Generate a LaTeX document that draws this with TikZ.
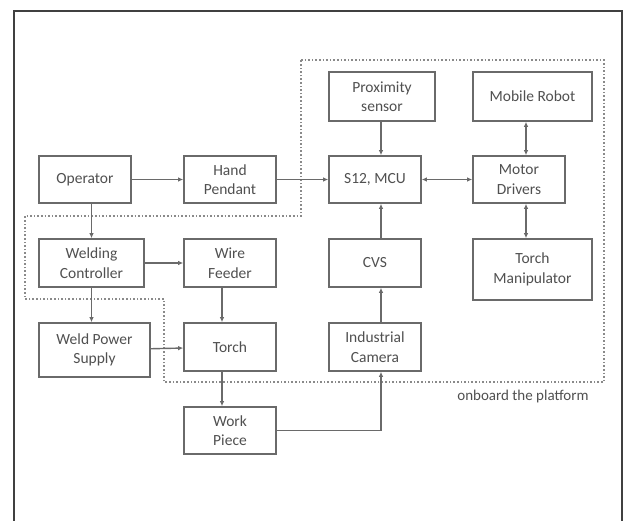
\documentclass[tikz,border=0pt]{standalone}
\usepackage{fontspec}
\setmainfont{Carlito}
\usetikzlibrary{arrows.meta,calc}
\definecolor{boxc}{HTML}{6A6A6A}
\definecolor{txtc}{HTML}{505050}
\definecolor{dotc}{HTML}{8A8A8A}
\begin{document}
\begin{tikzpicture}[x=1pt,y=-1pt,
  blk/.style={draw=boxc,line width=1.6pt,fill=white,text=txtc,align=center,
    font=\fontsize{15.5}{19.5}\selectfont,inner sep=2pt},
  conn/.style={draw=boxc,line width=1.4pt,-{Latex[length=5pt,width=4.5pt]}},
  bconn/.style={draw=boxc,line width=1.4pt,{Latex[length=5pt,width=4.5pt]}-{Latex[length=5pt,width=4.5pt]}},
  plain/.style={draw=boxc,line width=1.4pt}]
\useasboundingbox (0,0) rectangle (625,521);
\fill[white] (0,0) rectangle (625,521);
% outer frame
\draw[line width=2.2pt,draw=black!75] (14,525) -- (14,11) -- (622,11) -- (622,525);
% dotted boundary
\draw[dotc,line width=1.6pt,dotted] (301,60) -- (604,60) -- (604,382) -- (164,382) -- (164,299) -- (25,299) -- (25,216) -- (301,216) -- cycle;
\node[text=txtc,font=\fontsize{15}{18}\selectfont,anchor=center] (lbl) at (523,397) {onboard the platform};
% boxes
\node[blk,minimum width=92,minimum height=47] (op) at (85,179.5) {Operator};
\node[blk,minimum width=92,minimum height=47] (hp) at (230,179.5) {Hand\\Pendant};
\node[blk,minimum width=106,minimum height=49] (px) at (382,96.5) {Proximity\\sensor};
\node[blk,minimum width=119,minimum height=49] (mr) at (532.5,96.5) {Mobile Robot};
\node[blk,minimum width=92,minimum height=47] (mcu) at (375,179.5) {S12, MCU};
\node[blk,minimum width=92,minimum height=47] (md) at (519,179.5) {Motor\\Drivers};
\node[blk,minimum width=105,minimum height=48] (wc) at (91.5,263) {Welding\\Controller};
\node[blk,minimum width=92,minimum height=48] (wf) at (230,263) {Wire\\Feeder};
\node[blk,minimum width=92,minimum height=48] (cvs) at (375,263) {CVS};
\node[blk,minimum width=119,minimum height=61] (tm) at (532.5,269.5) {Torch\\Manipulator};
\node[blk,minimum width=111,minimum height=54] (wps) at (94.5,350) {Weld Power\\Supply};
\node[blk,minimum width=92,minimum height=48] (tr) at (230,347) {Torch};
\node[blk,minimum width=92,minimum height=48] (cam) at (375,347) {Industrial\\Camera};
\node[blk,minimum width=92,minimum height=47] (wp) at (230,430.5) {Work\\Piece};
% column coordinates
\coordinate (cx) at (381,0);
\coordinate (mx) at (526,0);
\coordinate (tx) at (222,0);
% connectors
\draw[conn] (op) -- (hp);
\draw[conn] (hp) -- (mcu);
\draw[conn] (wc.north |- op.south) -- (wc.north);
\draw[conn] (wc) -- (wf);
\draw[conn] (wc.south) -- (wc.south |- wps.north);
\draw[conn] (wf.south -| tx) -- (tr.north -| tx);
\draw[conn] (wps) -- (tr);
\draw[conn] (tr.south -| tx) -- (wp.north -| tx);
\draw[conn] (wp.east) -- (wp.east -| cx) -- (cam.south -| cx);
\draw[conn] (cam.north -| cx) -- (cvs.south -| cx);
\draw[conn] (cvs.north -| cx) -- (mcu.south -| cx);
\draw[conn] (px.south -| cx) -- (mcu.north -| cx);
\draw[bconn] (mcu) -- (md);
\draw[bconn] (md.north -| mx) -- (mr.south -| mx);
\draw[bconn] (md.south -| mx) -- (tm.north -| mx);
\end{tikzpicture}
\end{document}
